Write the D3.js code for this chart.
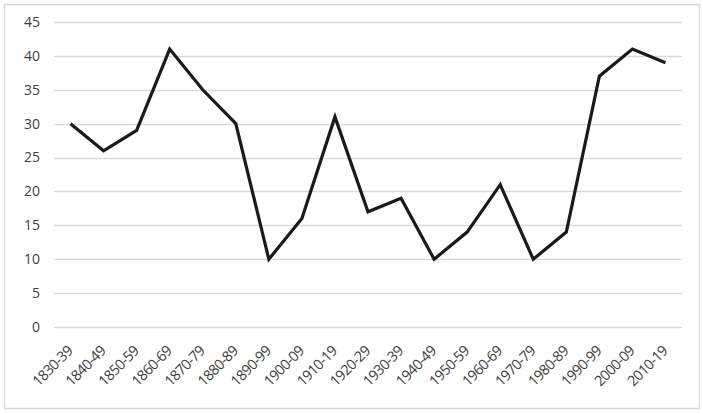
<!DOCTYPE html>
<html><head><meta charset="utf-8">
<script src="https://cdn.jsdelivr.net/npm/d3@7"></script>
<style>body{margin:0;background:#fff}</style>
</head><body><svg id="c" width="703" height="414"></svg>
<script>
const categories = ["1830-39","1840-49","1850-59","1860-69","1870-79","1880-89","1890-99","1900-09","1910-19","1920-29","1930-39","1940-49","1950-59","1960-69","1970-79","1980-89","1990-99","2000-09","2010-19"];
const values = [30,26,29,41,35,30,10,16,31,17,19,10,14,21,10,14,37,41,39];
const yTicks = [0,5,10,15,20,25,30,35,40,45];

const svg = d3.select("#c");
svg.append("rect").attr("x",4.5).attr("y",4.5).attr("width",695).attr("height",404)
  .attr("fill","#fff").attr("stroke","#d9d9d9").attr("stroke-width",1.5);

const x = d3.scaleBand().domain(categories).range([54,682]);
const y = d3.scaleLinear().domain([0,45]).range([327,22]);

const g = svg.append("g");
g.selectAll("line.grid").data(yTicks).join("line")
  .attr("x1",54).attr("x2",682).attr("y1",d=>Math.round(y(d))+0.5).attr("y2",d=>Math.round(y(d))+0.5)
  .attr("stroke","#d9d9d9").attr("stroke-width",1.5);

g.selectAll("text.yl").data(yTicks).join("text")
  .attr("x",40).attr("y",d=>y(d)).attr("dy","0.35em").attr("text-anchor","end")
  .attr("font-family","Open Sans, sans-serif").attr("font-size",14).attr("fill","#404040")
  .text(d=>d);

g.selectAll("text.xl").data(categories).join("text")
  .attr("transform",d=>`translate(${x(d)+x.bandwidth()/2+3},352) rotate(-45)`)
  .attr("text-anchor","end")
  .attr("font-family","Open Sans, sans-serif").attr("font-size",14.5).attr("fill","#404040")
  .attr("letter-spacing","-0.7")
  .text(d=>d);

const line = d3.line().x((d,i)=>x(categories[i])+x.bandwidth()/2).y(d=>y(d));
g.append("path").datum(values).attr("d",line).attr("fill","none")
  .attr("stroke","#1a1a1a").attr("stroke-width",3.2).attr("stroke-linejoin","miter");
</script></body></html>
